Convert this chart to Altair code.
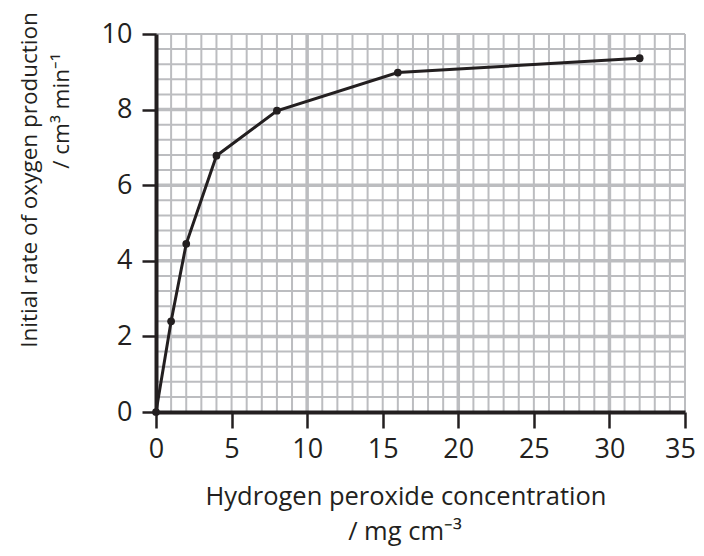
import altair as alt
import pandas as pd

# Data
conc = [0, 1, 2, 4, 8, 16, 32]
rate = [0, 2.4, 4.45, 6.78, 7.97, 8.98, 9.36]

x_ticks = [0, 5, 10, 15, 20, 25, 30, 35]
y_ticks = [0, 2, 4, 6, 8, 10]
x_minor = list(range(0, 36))
y_minor = [round(i * 0.4, 1) for i in range(26)]
x_major = [10, 20, 30]
y_major = [2, 4, 6, 8]

FONT = "Open Sans"
INK = "#231f20"
GRID = "#bcbdc0"

W, H = 529, 378

df = pd.DataFrame({"conc": conc, "rate": rate})
xs = alt.Scale(domain=[0, 35], nice=False, zero=False)
ys = alt.Scale(domain=[0, 10], nice=False, zero=False)

xaxis = alt.Axis(values=x_ticks, title=None, grid=False, domainColor=INK, domainWidth=4,
                 tickColor=INK, tickWidth=2.5, tickSize=16, labelFont=FONT, labelFontSize=27,
                 labelColor=INK, labelPadding=8, zindex=2, labelFlush=False,
                 labelOffset=alt.condition("datum.value == 35", alt.value(-5), alt.value(0)))
yaxis = alt.Axis(values=y_ticks, title=None, grid=False, domainColor=INK, domainWidth=4,
                 tickColor=INK, tickWidth=2.5, tickSize=14, labelFont=FONT, labelFontSize=27,
                 labelColor=INK, labelPadding=10, zindex=2, labelFlush=False)

vminor = alt.Chart(pd.DataFrame({"g": x_minor})).mark_rule(color=GRID, strokeWidth=2).encode(
    x=alt.X("g:Q", scale=xs, axis=xaxis))
hminor = alt.Chart(pd.DataFrame({"g": y_minor})).mark_rule(color=GRID, strokeWidth=2).encode(
    y=alt.Y("g:Q", scale=ys, axis=yaxis))
vmajor = alt.Chart(pd.DataFrame({"g": x_major})).mark_rule(color=GRID, strokeWidth=3.5).encode(
    x=alt.X("g:Q", scale=xs, axis=xaxis))
hmajor = alt.Chart(pd.DataFrame({"g": y_major})).mark_rule(color=GRID, strokeWidth=3.5).encode(
    y=alt.Y("g:Q", scale=ys, axis=yaxis))

line = alt.Chart(df).mark_line(color=INK, strokeWidth=3).encode(
    x=alt.X("conc:Q", scale=xs, axis=xaxis),
    y=alt.Y("rate:Q", scale=ys, axis=yaxis))
pts = alt.Chart(df).mark_point(filled=True, color=INK, size=60, opacity=1).encode(
    x=alt.X("conc:Q", scale=xs, axis=xaxis),
    y=alt.Y("rate:Q", scale=ys, axis=yaxis))

one = alt.Data(values=[{}])
def label(txt, x, y, angle=0, size=25):
    return alt.Chart(one).mark_text(text=txt, font=FONT, fontSize=size, color=INK,
                                    angle=angle, align="center", baseline="alphabetic").encode(
        x=alt.value(x), y=alt.value(y))

t1 = label("Hydrogen peroxide concentration", 250, 471, size=25.5)
t2 = label("/ mg cm\u207b\u00b3", 249, 506, size=25.5)
t3 = label("Initial rate of oxygen production", -119, 146, angle=270, size=22.5)
t4 = label("/ cm\u00b3 min\u207b\u00b9", -87, 77, angle=270, size=22.5)

chart = alt.layer(vminor, hminor, vmajor, hmajor, line, pts, t1, t2, t3, t4).properties(
    width=W, height=H,
    autosize=alt.AutoSizeParams(type="none"),
    padding={"left": 148, "top": 26, "right": 11, "bottom": 136},
).configure_view(stroke=None)

chart.save("out.html", embed_options={"renderer": "svg", "actions": False})
